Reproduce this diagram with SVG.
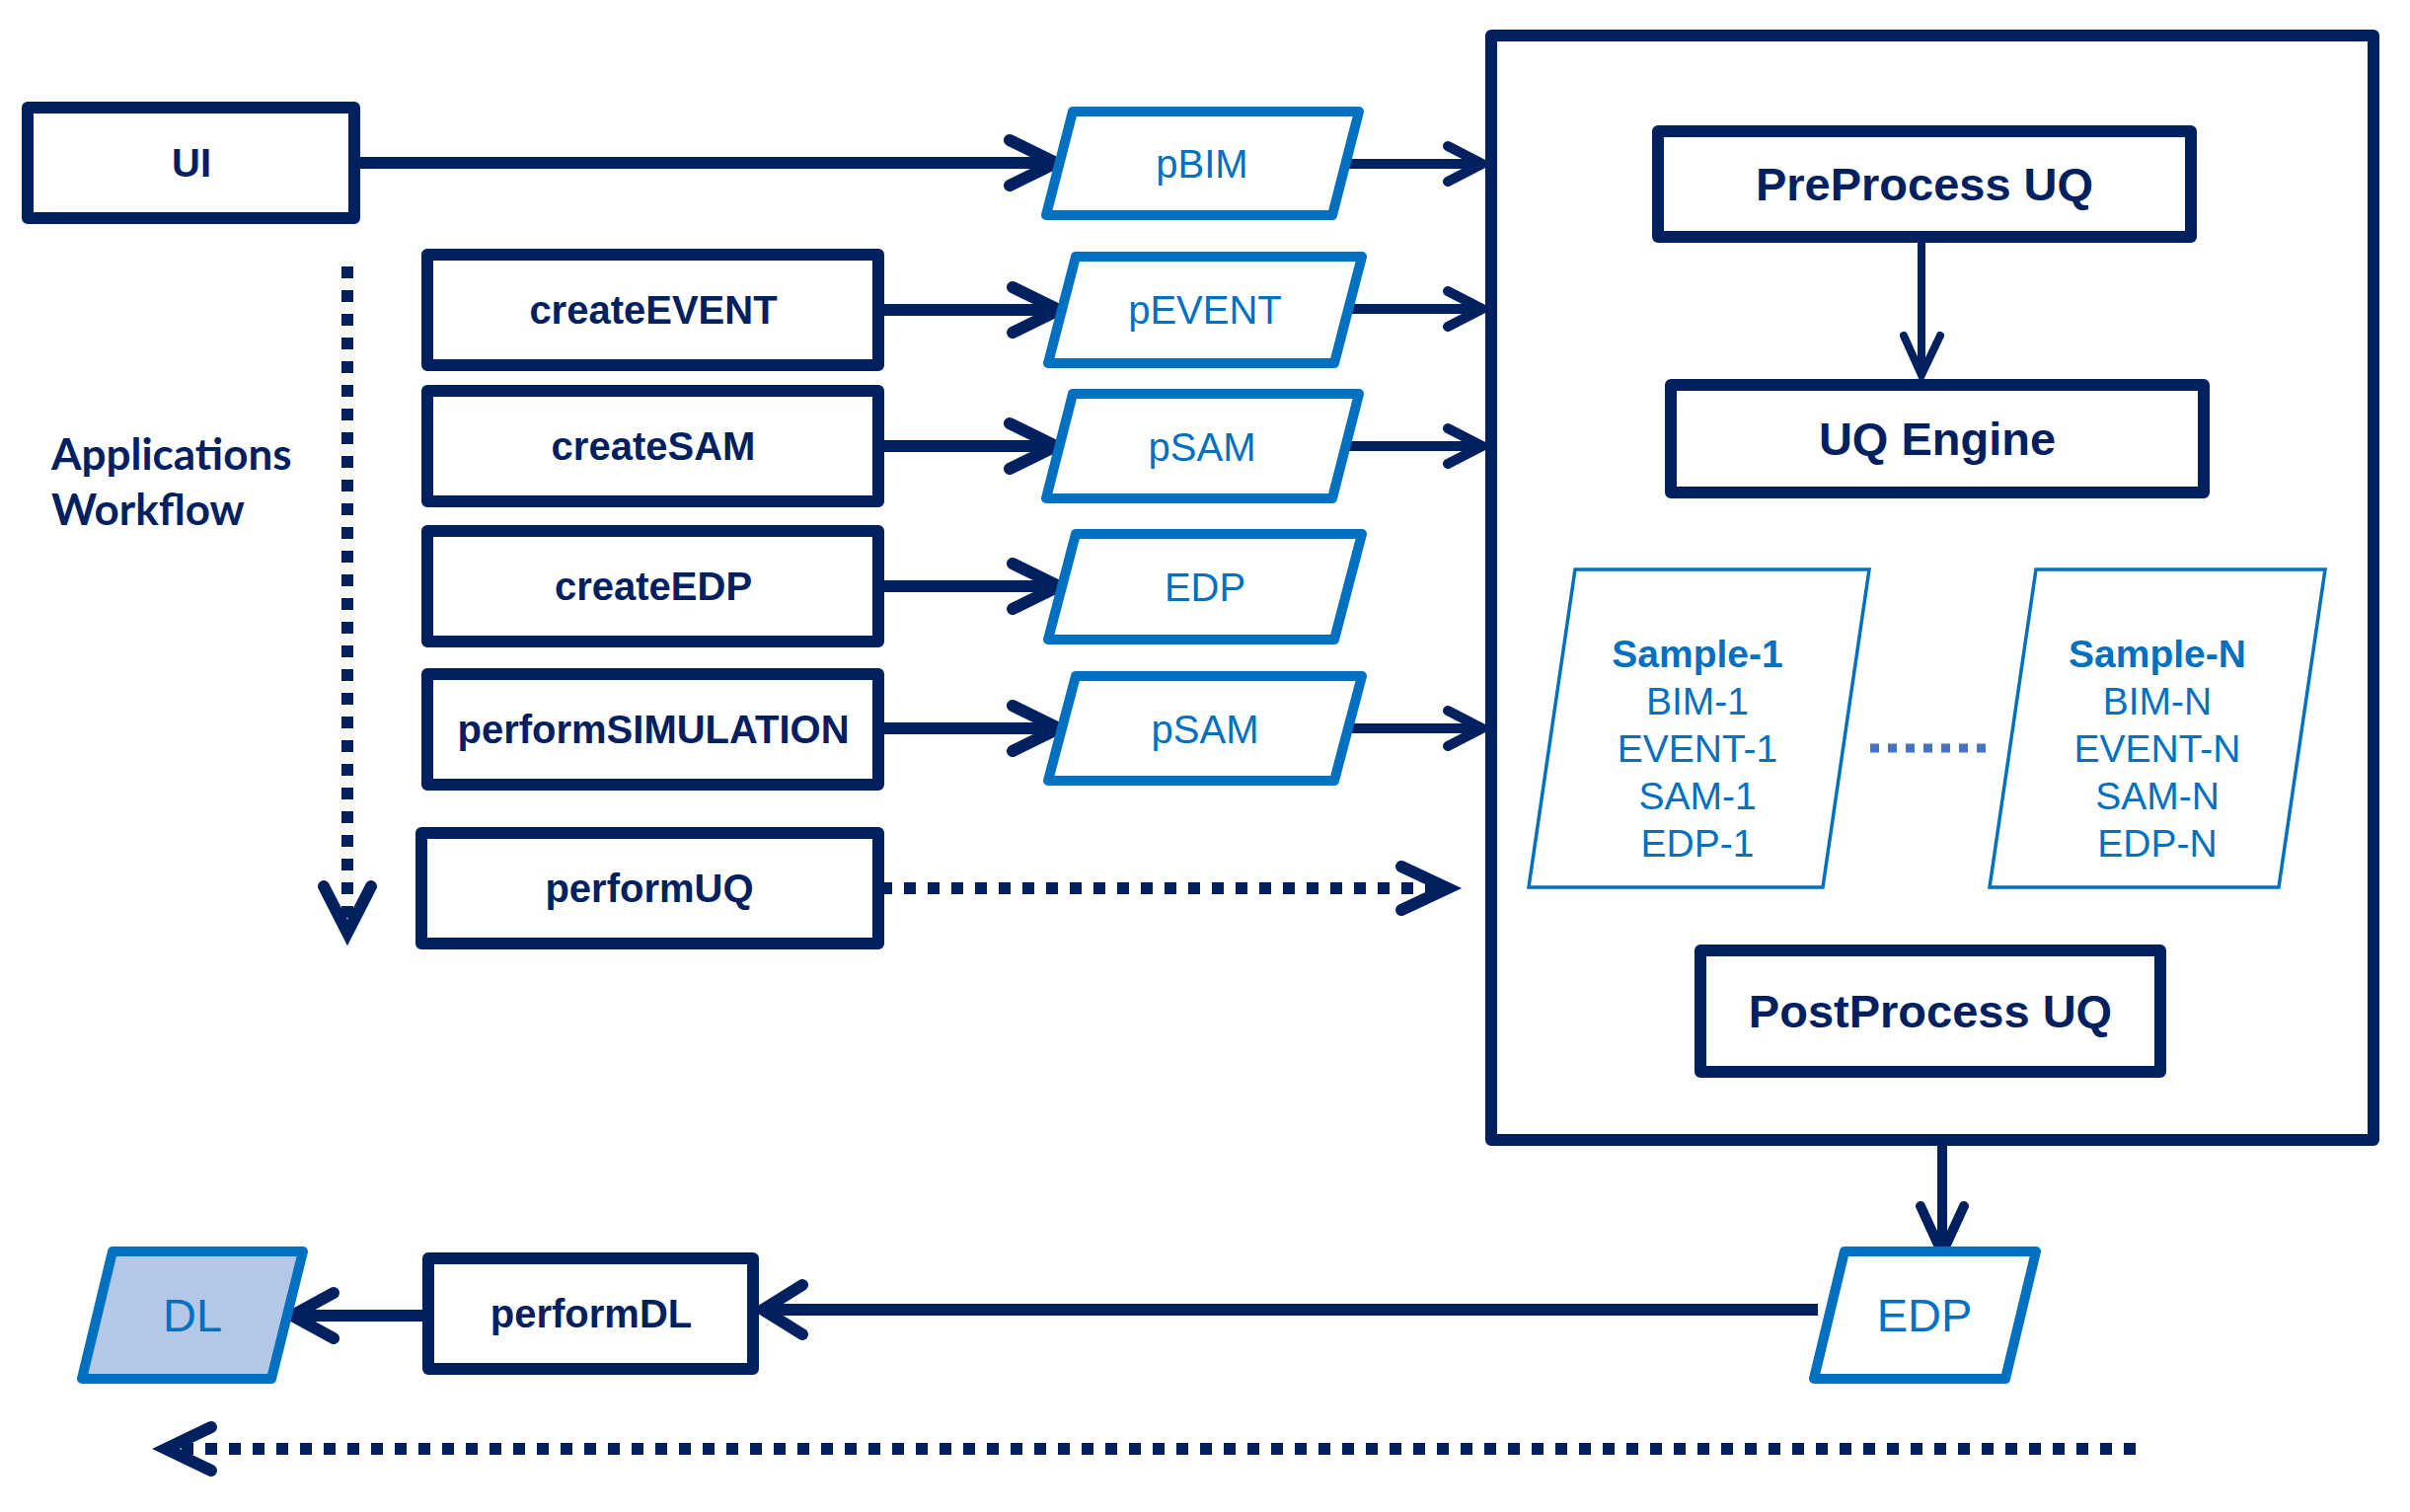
<svg xmlns="http://www.w3.org/2000/svg" width="2442" height="1532" viewBox="0 0 2442 1532">
<style>
.box{fill:#fff;stroke:#002060;stroke-width:12;stroke-linejoin:round}
.frame{fill:none;stroke:#002060;stroke-width:12;stroke-linejoin:round}
.para{fill:#fff;stroke:#0070C0;stroke-width:10;stroke-linejoin:round}
.dl{fill:#B4C7E7}
.samp{fill:#fff;stroke:#0070C0;stroke-width:3.5}
.lbl{font-family:"Liberation Sans",Arial,sans-serif;font-weight:bold;font-size:40px;fill:#002060;text-anchor:middle}
.plbl{font-family:"Liberation Sans",Arial,sans-serif;font-size:40px;fill:#0070C0;text-anchor:middle}
.slbl{font-family:"Liberation Sans",Arial,sans-serif;font-size:39px;fill:#0070C0;text-anchor:middle}
.lbl.big,.plbl.big{font-size:47px}
.ln{fill:none;stroke:#002060;stroke-width:12}
.ln10{fill:none;stroke:#002060;stroke-width:10}
.ln8{fill:none;stroke:#002060;stroke-width:8}
.hd{fill:none;stroke:#002060;stroke-width:12;stroke-linecap:round;stroke-linejoin:miter}
.hd10{fill:none;stroke:#002060;stroke-width:10;stroke-linecap:round;stroke-linejoin:miter}
.hd8{fill:none;stroke:#002060;stroke-width:8;stroke-linecap:round;stroke-linejoin:miter}
.dash{fill:none;stroke:#002060;stroke-width:12;stroke-dasharray:12 12}
.dots{fill:none;stroke:#4472C4;stroke-width:9;stroke-dasharray:9 9}
</style>

<g id="uq-container">
  <rect class="frame" x="1511" y="36" width="894" height="1119"/>
</g>

<g id="connectors">
  <line class="ln" x1="365" y1="165" x2="1066" y2="165"/>
  <polyline class="hd" points="1023,142 1070,165 1023,188"/>
  <line class="ln" x1="896" y1="314" x2="1068" y2="314"/>
  <polyline class="hd" points="1026,291 1073,314 1026,337"/>
  <line class="ln" x1="896" y1="452" x2="1066" y2="452"/>
  <polyline class="hd" points="1023,429 1070,452 1023,475"/>
  <line class="ln" x1="896" y1="594" x2="1068" y2="594"/>
  <polyline class="hd" points="1026,571 1073,594 1026,617"/>
  <line class="ln" x1="896" y1="738" x2="1068" y2="738"/>
  <polyline class="hd" points="1026,715 1073,738 1026,761"/>
  <line class="ln10" x1="1364" y1="166" x2="1500" y2="166"/>
  <polyline class="hd10" points="1467,148 1502,166 1467,184"/>
  <line class="ln10" x1="1366" y1="313" x2="1500" y2="313"/>
  <polyline class="hd10" points="1467,295 1502,313 1467,331"/>
  <line class="ln10" x1="1364" y1="452" x2="1500" y2="452"/>
  <polyline class="hd10" points="1467,434 1502,452 1467,470"/>
  <line class="ln10" x1="1366" y1="738" x2="1500" y2="738"/>
  <polyline class="hd10" points="1467,720 1502,738 1467,756"/>
  <line class="dash" x1="352" y1="270" x2="352" y2="940"/>
  <polyline class="hd" points="328,898 352,945 376,898"/>
  <line class="dash" x1="892" y1="900" x2="1462" y2="900"/>
  <polyline class="hd" points="1420,878 1467,900 1420,922"/>
  <line class="ln8" x1="1947" y1="246" x2="1947" y2="376"/>
  <polyline class="hd8" points="1929,340 1947,380 1966,340"/>
  <line class="ln10" x1="1968" y1="1161" x2="1968" y2="1266"/>
  <polyline class="hd10" points="1946,1222 1968,1270 1990,1222"/>
  <line class="ln" x1="1842" y1="1327" x2="777" y2="1327"/>
  <polyline class="hd" points="813,1302 773,1327 813,1352"/>
  <line class="ln" x1="428" y1="1333" x2="300" y2="1333"/>
  <polyline class="hd" points="338,1310 296,1333 338,1356"/>
  <line class="dash" x1="2164" y1="1468" x2="172" y2="1468"/>
  <polyline class="hd" points="214,1446 168,1468 214,1490"/>
  <line class="dots" x1="1895" y1="758" x2="2012" y2="758"/>
</g>

<g id="ui">
  <rect class="box" x="28" y="109" width="331" height="112"/>
  <text class="lbl" x="194" y="179">UI</text>
</g>
<g id="app-label">
  <text font-family="Lato,'Open Sans',sans-serif" font-weight="bold" font-size="44" fill="#002060">
    <tspan x="52" y="476">Applications</tspan>
    <tspan x="52" y="532">Workflow</tspan>
  </text>
</g>
<g id="createEVENT">
  <rect class="box" x="433" y="258" width="457" height="112"/>
  <text class="lbl" x="662" y="328">createEVENT</text>
</g>
<g id="createSAM">
  <rect class="box" x="433" y="396" width="457" height="112"/>
  <text class="lbl" x="662" y="466">createSAM</text>
</g>
<g id="createEDP">
  <rect class="box" x="433" y="538" width="457" height="112"/>
  <text class="lbl" x="662" y="608">createEDP</text>
</g>
<g id="performSIMULATION">
  <rect class="box" x="433" y="683" width="457" height="112"/>
  <text class="lbl" x="662" y="753">performSIMULATION</text>
</g>
<g id="performUQ">
  <rect class="box" x="427" y="844" width="463" height="112"/>
  <text class="lbl" x="658" y="914">performUQ</text>
</g>

<g id="pBIM">
  <polygon class="para" points="1087,113 1377,113 1350,218 1060,218"/>
  <text class="plbl" x="1218" y="180">pBIM</text>
</g>
<g id="pEVENT">
  <polygon class="para" points="1090,260 1380,260 1352,368 1062,368"/>
  <text class="plbl" x="1221" y="328">pEVENT</text>
</g>
<g id="pSAM">
  <polygon class="para" points="1087,399 1377,399 1350,505 1060,505"/>
  <text class="plbl" x="1218" y="467">pSAM</text>
</g>
<g id="EDP-mid">
  <polygon class="para" points="1090,541 1380,541 1352,648 1062,648"/>
  <text class="plbl" x="1221" y="609">EDP</text>
</g>
<g id="pSAM2">
  <polygon class="para" points="1090,685 1380,685 1352,791 1062,791"/>
  <text class="plbl" x="1221" y="753">pSAM</text>
</g>

<g id="preprocess">
  <rect class="box" x="1680" y="133" width="540" height="107"/>
  <text class="lbl big" x="1950" y="203">PreProcess UQ</text>
</g>
<g id="uqengine">
  <rect class="box" x="1693" y="390" width="540" height="109"/>
  <text class="lbl big" x="1963" y="461">UQ Engine</text>
</g>
<g id="sample1">
  <polygon class="samp" points="1596,577 1894,577 1847,899 1549,899"/>
  <text class="slbl" x="1720" y="676" font-weight="bold">Sample-1</text>
  <text class="slbl" x="1720" y="724">BIM-1</text>
  <text class="slbl" x="1720" y="772">EVENT-1</text>
  <text class="slbl" x="1720" y="820">SAM-1</text>
  <text class="slbl" x="1720" y="868">EDP-1</text>
</g>
<g id="sampleN">
  <polygon class="samp" points="2063,577 2356,577 2309,899 2016,899"/>
  <text class="slbl" x="2186" y="676" font-weight="bold">Sample-N</text>
  <text class="slbl" x="2186" y="724">BIM-N</text>
  <text class="slbl" x="2186" y="772">EVENT-N</text>
  <text class="slbl" x="2186" y="820">SAM-N</text>
  <text class="slbl" x="2186" y="868">EDP-N</text>
</g>
<g id="postprocess">
  <rect class="box" x="1723" y="963" width="466" height="123"/>
  <text class="lbl big" x="1956" y="1041">PostProcess UQ</text>
</g>

<g id="EDP-out">
  <polygon class="para" points="1869,1268 2063,1268 2032,1397 1838,1397"/>
  <text class="plbl big" x="1950" y="1349">EDP</text>
</g>
<g id="performDL">
  <rect class="box" x="434" y="1275" width="329" height="112"/>
  <text class="lbl" x="599" y="1345">performDL</text>
</g>
<g id="DL">
  <polygon class="para dl" points="114,1268 307,1268 275,1397 83,1397"/>
  <text class="plbl big" x="195" y="1349">DL</text>
</g>
</svg>
